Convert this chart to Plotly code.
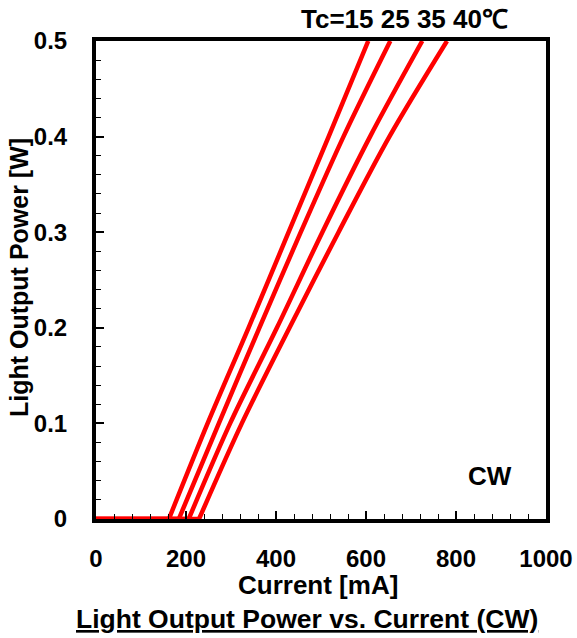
import plotly.graph_objects as go

# Data (current in mA, light output power in W)
series_names = ["15", "25", "35", "40"]
threshold_current = [162, 184, 206, 229]
power_levels = [0, 0.1, 0.2, 0.3, 0.4, 0.5]
current_15 = [162, 248, 339, 428, 517, 605]
current_25 = [184, 273, 363, 455, 550, 654]
current_35 = [206, 298, 402, 503, 609, 725]
current_40 = [229, 324, 430, 539, 652, 780]

x_ticks = [0, 200, 400, 600, 800, 1000]
y_ticks = [0, 0.1, 0.2, 0.3, 0.4, 0.5]
y_tick_text = ["0", "0.1", "0.2", "0.3", "0.4", "0.5"]

FONT = "Liberation Sans, Arial, sans-serif"
RED = "#FF0000"

fig = go.Figure()
for name, ith, cur in zip(series_names, threshold_current,
                          [current_15, current_25, current_35, current_40]):
    # below-threshold flat part
    fig.add_trace(go.Scatter(
        x=[0, ith], y=[0, 0], mode="lines", name="Tc=" + name,
        line=dict(color=RED, width=4.5), showlegend=False,
    ))
    # lasing part
    fig.add_trace(go.Scatter(
        x=cur, y=power_levels, mode="lines", name="Tc=" + name,
        line=dict(color=RED, width=4.5, shape="spline", smoothing=0.9), showlegend=False,
    ))

W, H = 577, 638
L, R, T, B = 96, 31, 41, 119
pw, ph = W - L - R, H - T - B

def px(xp):
    return (xp - L) / pw

def py(yp):
    return (H - B - yp) / ph

tickfont = dict(family=FONT, size=24, color="black", weight="bold")
axis_common = dict(
    showline=True, linewidth=4, linecolor="black", mirror=True,
    ticks="inside", tickcolor="black", tickwidth=1.5, ticklen=8,
    showgrid=False, zeroline=False, tickfont=tickfont, automargin=False,
)

ann_font = dict(family=FONT, size=26, color="black")

fig.update_layout(
    width=W, height=H,
    margin=dict(l=L, r=R, t=T, b=B, pad=0, autoexpand=False),
    paper_bgcolor="white", plot_bgcolor="white",
    xaxis=dict(range=[0, 1000], tickvals=x_ticks, ticktext=[str(v) for v in x_ticks],
               minor=dict(dtick=40, tick0=0, ticks="inside", ticklen=5, tickwidth=1.2, tickcolor="black"),
               ticklabelstandoff=15, **axis_common),
    yaxis=dict(range=[0, 0.5], tickvals=y_ticks, ticktext=y_tick_text,
               minor=dict(dtick=0.02, tick0=0, ticks="inside", ticklen=5, tickwidth=1.2, tickcolor="black"),
               ticklabelstandoff=20, **axis_common),
    annotations=[
        dict(text="<b>Tc=15 25 35 40℃</b>", x=px(404), y=py(19), xref="paper", yref="paper",
             showarrow=False, font=ann_font, xanchor="center", yanchor="middle"),
        dict(text="<b>CW</b>", x=875, y=0.045, xref="x", yref="y",
             showarrow=False, font=ann_font, xanchor="center", yanchor="middle"),
        dict(text="<b>Current [mA]</b>", x=px(318), y=py(585), xref="paper", yref="paper",
             showarrow=False, font=ann_font, xanchor="center", yanchor="middle"),
        dict(text="<b><u>Light Output Power vs. Current (CW)</u></b>", x=px(307), y=py(619),
             xref="paper", yref="paper",
             showarrow=False, font=dict(family=FONT, size=26.5, color="black"),
             xanchor="center", yanchor="middle"),
        dict(text="<b>Light Output Power [W]</b>", x=px(19), y=py(278), xref="paper", yref="paper",
             textangle=-90, showarrow=False, font=dict(family=FONT, size=25, color="black"),
             xanchor="center", yanchor="middle"),
    ],
)

fig.write_html(
    "out.html",
    config={"displayModeBar": False},
    post_script="document.body.style.margin='0';document.body.style.overflow='hidden';",
)
